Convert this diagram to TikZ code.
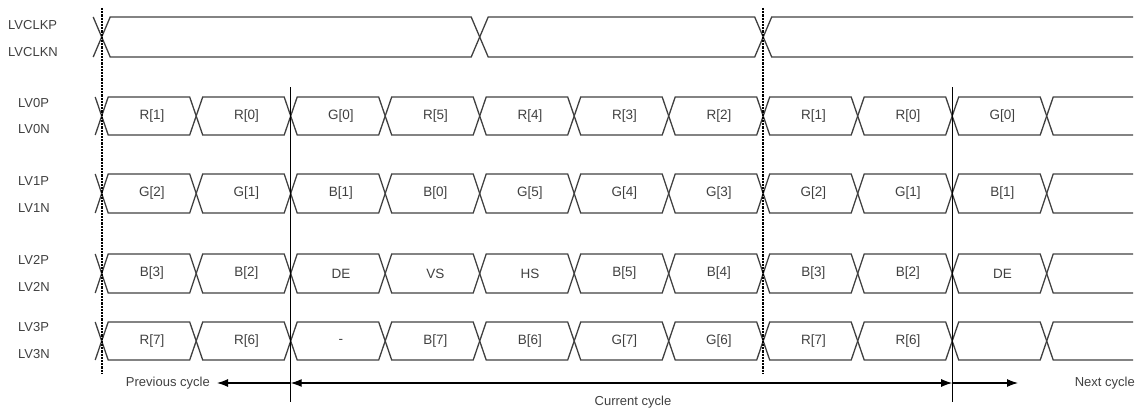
\documentclass[tikz,border=0pt]{standalone}
\usepackage{fontspec}
\setmainfont{Liberation Sans}
\usetikzlibrary{arrows.meta}

\def\xzero{101.7}
\def\bitw{94.5}
\def\slant{6.5}
\def\cslant{8.5}

\begin{document}
\begin{tikzpicture}[x=1pt,y=-1pt,
    sig/.style={line width=1.3pt,black!75},
    cell/.style={font=\fontsize{13.5}{15}\selectfont,text=black!75,inner sep=0pt},
    pin/.style={font=\fontsize{13}{15}\selectfont,text=black!75,anchor=west,inner sep=0pt},
    edge/.style={densely dotted,line width=2.2pt},
    cyc/.style={line width=1.1pt},
    arr/.style={-{Latex[length=11pt,width=8pt]},line width=1.1pt},
    arrs/.style={{Latex[length=11pt,width=8pt]}-{Latex[length=11pt,width=8pt]},line width=1.1pt}]
    \useasboundingbox (0,0) rectangle (1137,412);

    % pin names
    \foreach \n/\t/\x/\y in {clkp/LVCLKP/8/25, clkn/LVCLKN/8/52,
        lvzp/LV0P/18/103, lvzn/LV0N/18/129, lvap/LV1P/18/181, lvan/LV1N/18/208,
        lvbp/LV2P/18/260, lvbn/LV2N/18/287, lvcp/LV3P/18/327, lvcn/LV3N/18/354}
    {
        \node[pin] (\n) at (\x,\y) {\t};
    }

    % clock
    \draw[sig] (\xzero-\cslant,17) -- (\xzero,37) -- (\xzero-\cslant,57);
    \foreach \a/\b in {0/4,4/7}
        \draw[sig] (\xzero+\a*\bitw,37) -- (\xzero+\a*\bitw+\cslant,17) -- (\xzero+\b*\bitw-\cslant,17)
            -- (\xzero+\b*\bitw,37) -- (\xzero+\b*\bitw-\cslant,57) -- (\xzero+\a*\bitw+\cslant,57) -- cycle;
    \draw[sig] (1133,17) -- (\xzero+7*\bitw+\cslant,17) -- (\xzero+7*\bitw,37)
        -- (\xzero+7*\bitw+\cslant,57) -- (1133,57);

    % data lanes
    \foreach \yt/\yc/\yb in {97/116/135, 174/193.5/213, 254/273.5/293, 322/341/360}
    {
        \draw[sig] (\xzero-\slant,\yt) -- (\xzero,\yc) -- (\xzero-\slant,\yb);
        \foreach \i in {0,...,9}
            \draw[sig] (\xzero+\i*\bitw,\yc) -- (\xzero+\i*\bitw+\slant,\yt) -- (\xzero+\i*\bitw+\bitw-\slant,\yt)
                -- (\xzero+\i*\bitw+\bitw,\yc) -- (\xzero+\i*\bitw+\bitw-\slant,\yb) -- (\xzero+\i*\bitw+\slant,\yb) -- cycle;
        \draw[sig] (1133,\yt) -- (\xzero+10*\bitw+\slant,\yt) -- (\xzero+10*\bitw,\yc)
            -- (\xzero+10*\bitw+\slant,\yb) -- (1133,\yb);
    }

    % bit contents
    \foreach \i/\t in {0/R[1],1/R[0],2/G[0],3/R[5],4/R[4],5/R[3],6/R[2],7/R[1],8/R[0],9/G[0]}
        \node[cell] (lvz-\i) at (\xzero+\i*\bitw+\bitw/2+3,116) {\t};
    \foreach \i/\t in {0/G[2],1/G[1],2/B[1],3/B[0],4/G[5],5/G[4],6/G[3],7/G[2],8/G[1],9/B[1]}
        \node[cell] (lva-\i) at (\xzero+\i*\bitw+\bitw/2+3,193.5) {\t};
    \foreach \i/\t in {0/B[3],1/B[2],2/DE,3/VS,4/HS,5/B[5],6/B[4],7/B[3],8/B[2],9/DE}
        \node[cell] (lvb-\i) at (\xzero+\i*\bitw+\bitw/2+3,273.5) {\t};
    \foreach \i/\t in {0/R[7],1/R[6],2/-,3/B[7],4/B[6],5/G[7],6/G[6],7/R[7],8/R[6]}
        \node[cell] (lvc-\i) at (\xzero+\i*\bitw+\bitw/2+3,341) {\t};

    % cycle marks
    \coordinate (da-top) at (\xzero,8);
    \coordinate (da-bot) at (\xzero,373);
    \coordinate (db-top) at (\xzero+7*\bitw,8);
    \coordinate (db-bot) at (\xzero+7*\bitw,373);
    \coordinate (sa-top) at (\xzero+2*\bitw,87);
    \coordinate (sa-mid) at (\xzero+2*\bitw,383);
    \coordinate (sa-bot) at (\xzero+2*\bitw,402);
    \coordinate (sb-top) at (\xzero+9*\bitw,87);
    \coordinate (sb-mid) at (\xzero+9*\bitw,383);
    \coordinate (sb-bot) at (\xzero+9*\bitw,402);
    \draw[edge] (da-top) -- (da-bot);
    \draw[edge] (db-top) -- (db-bot);
    \draw[cyc] (sa-top) -- (sa-bot);
    \draw[cyc] (sb-top) -- (sb-bot);

    \node[pin,anchor=east] (prev) at (210,383) {Previous cycle};
    \node[pin,anchor=east] (next) at (1135,383) {Next cycle};
    \node[pin,anchor=center] (cur) at (633,402) {Current cycle};
    \coordinate (prevtip) at (217,383);
    \coordinate (nexttip) at (1018,383);
    \draw[arr] (sa-mid) -- (prevtip);
    \draw[arrs] (sa-mid) -- (sb-mid);
    \draw[arr] (sb-mid) -- (nexttip);
\end{tikzpicture}
\end{document}
